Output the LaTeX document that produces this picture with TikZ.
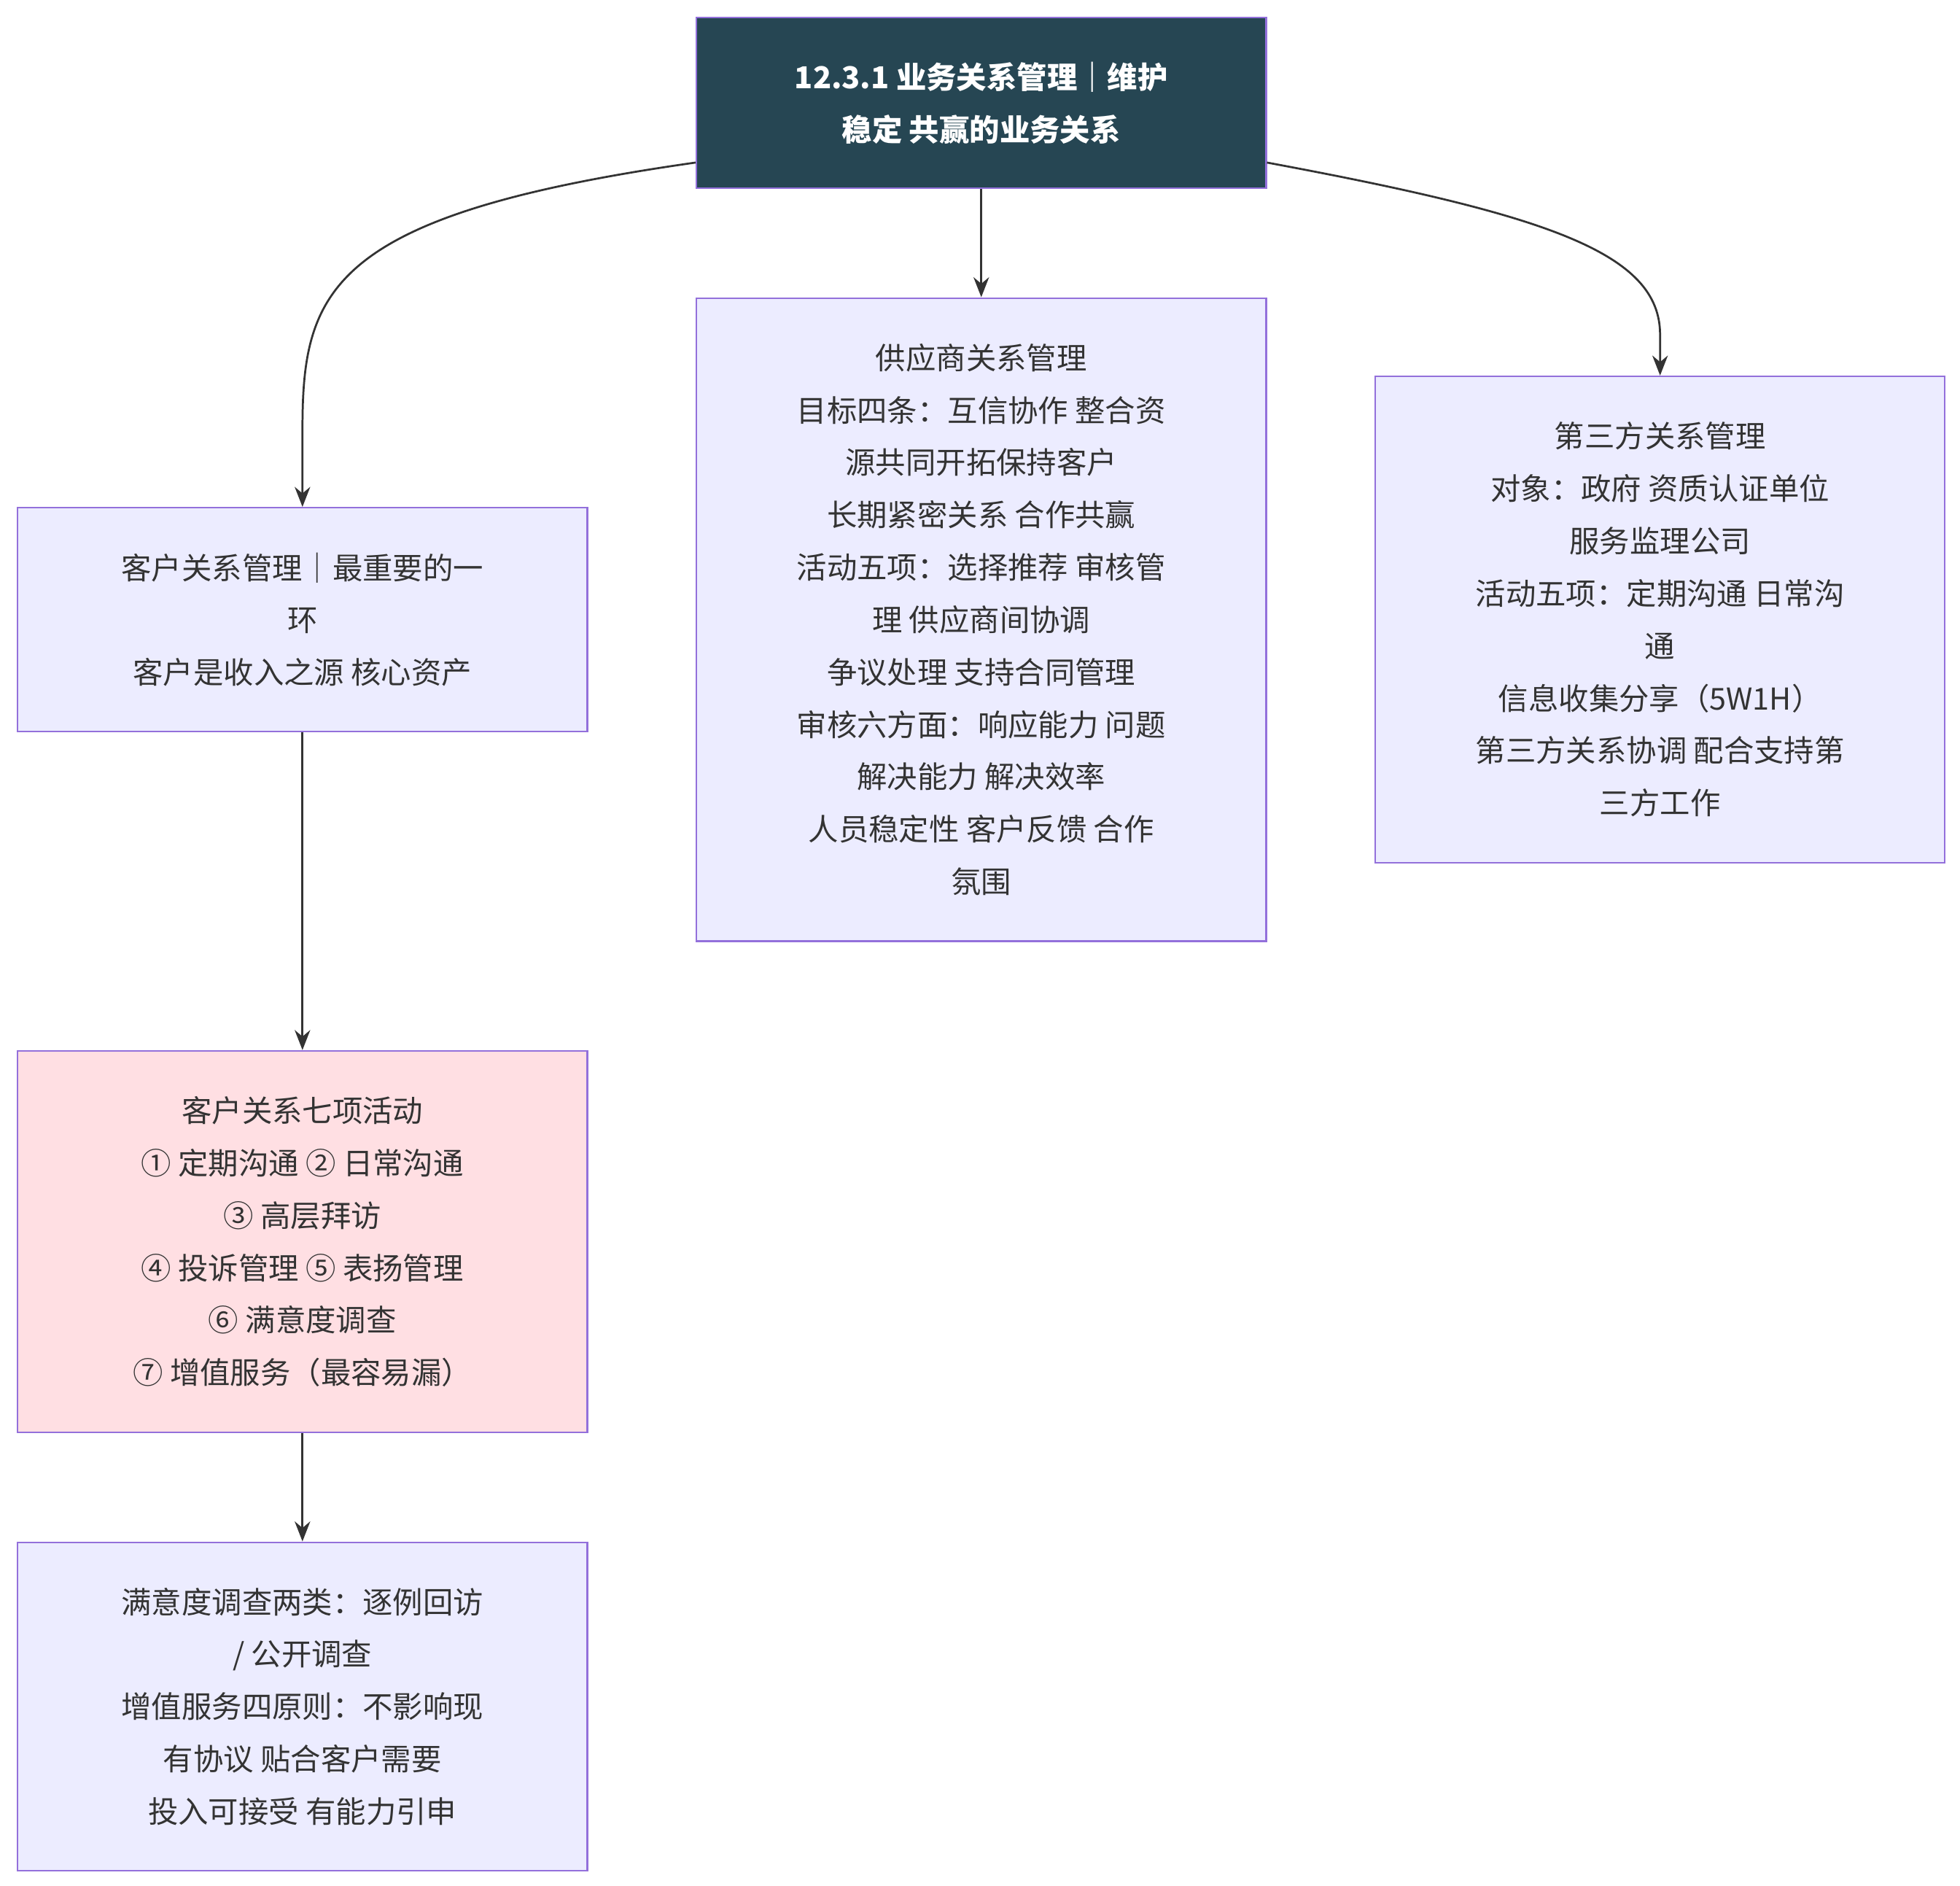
\documentclass[tikz,border=0pt]{standalone}
\usepackage{fontspec}
\setmainfont{Noto Sans CJK SC}
\usetikzlibrary{arrows.meta}
\definecolor{boxfill}{HTML}{ECECFF}
\definecolor{boxline}{HTML}{9370DB}
\definecolor{topfill}{HTML}{264653}
\definecolor{pinkfill}{HTML}{FFDFE3}
\definecolor{edge}{HTML}{333333}
\tikzset{
	box/.style={draw=boxline, fill=boxfill, line width=0.8pt, minimum width=9.02cm, align=center, inner sep=0pt, font=\fontsize{13.6}{23.6}\selectfont, text=black!80},
	link/.style={draw=edge, line width=0.9pt, -{Stealth[length=9pt,width=7pt]}}
}
\begin{document}
\begin{tikzpicture}[]

	\useasboundingbox (0,0) rectangle (31.04,-29.86);

	% title
	\node[box, fill=topfill, text=white, minimum height=2.7cm, font=\fontsize{13.6}{23.6}\selectfont\bfseries] (root) at (15.54,-1.63) {12.3.1 业务关系管理｜维护\\稳定 共赢的业务关系};

	% three branches
	\node[box, minimum height=3.54cm] (cust) at (4.79,-9.81) {客户关系管理｜最重要的一\\环\\客户是收入之源 核心资产};
	\node[box, minimum height=10.18cm] (supp) at (15.54,-9.81) {供应商关系管理\\目标四条：互信协作 整合资\\源共同开拓保持客户\\长期紧密关系 合作共赢\\活动五项：选择推荐 审核管\\理 供应商间协调\\争议处理 支持合同管理\\审核六方面：响应能力 问题\\解决能力 解决效率\\人员稳定性 客户反馈 合作\\氛围};
	\node[box, minimum height=7.7cm] (third) at (26.29,-9.81) {第三方关系管理\\对象：政府 资质认证单位\\服务监理公司\\活动五项：定期沟通 日常沟\\通\\信息收集分享（5W1H）\\第三方关系协调 配合支持第\\三方工作};

	% customer chain
	\node[box, fill=pinkfill, minimum height=6.04cm] (acts) at (4.79,-19.66) {客户关系七项活动\\① 定期沟通 ② 日常沟通\\③ 高层拜访\\④ 投诉管理 ⑤ 表扬管理\\⑥ 满意度调查\\⑦ 增值服务（最容易漏）};
	\node[box, minimum height=5.2cm] (sat) at (4.79,-27.02) {满意度调查两类：逐例回访\\/ 公开调查\\增值服务四原则：不影响现\\有协议 贴合客户需要\\投入可接受 有能力引申};

	% connectors
	\coordinate (rootL) at ([yshift=0.42cm]root.south west);
	\coordinate (rootR) at ([yshift=0.42cm]root.south east);
	\draw[link] (rootL) .. controls (5.2,-3.4) and (4.79,-4.6) .. (4.79,-6.8) -- (cust.north);
	\draw[link] (root.south) -- (supp.north);
	\draw[link] (rootR) .. controls (24.5,-3.4) and (26.29,-4.0) .. (26.29,-5.3) -- (third.north);
	\draw[link] (cust.south) -- (acts.north);
	\draw[link] (acts.south) -- (sat.north);

\end{tikzpicture}
\end{document}
